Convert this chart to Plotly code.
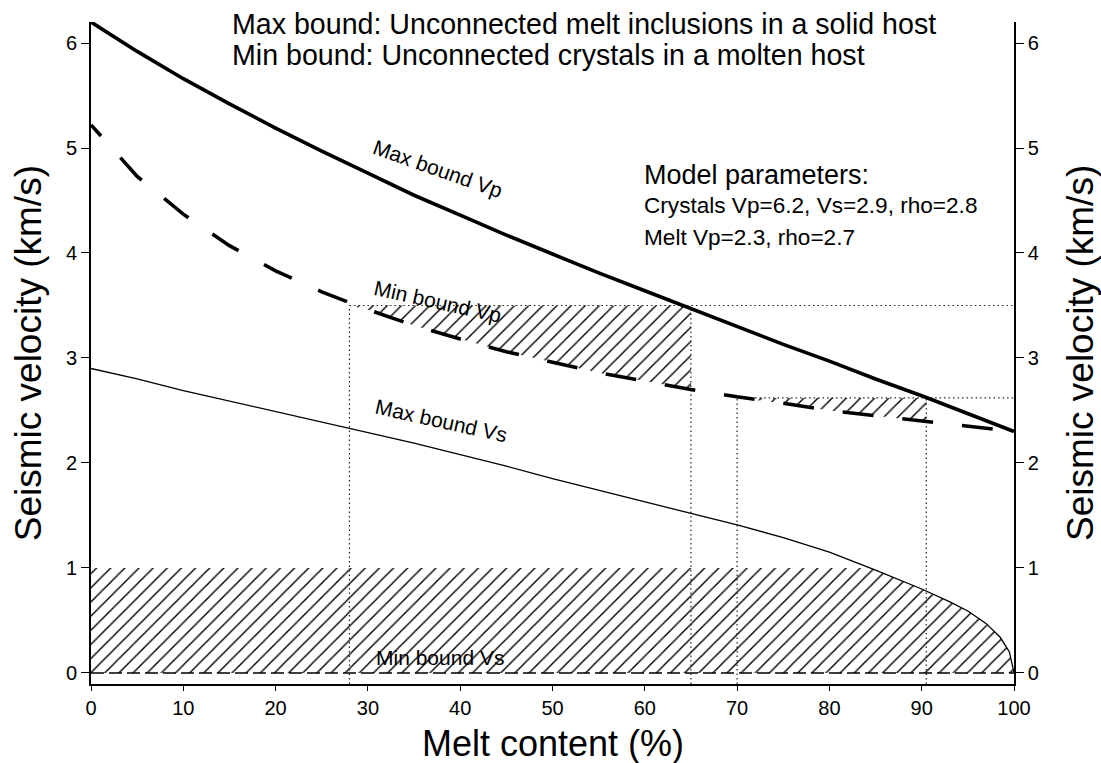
import numpy as np
import plotly.graph_objects as go

# Melt content (%) at which the P-wave bounds are tabulated
melt_pct = [0, 5, 10, 15, 20, 25, 30, 35, 40, 45, 50, 55, 60, 65, 70, 75, 80, 85, 90, 95, 100]
# Upper bound Vp: melt inclusions in a solid host (km/s)
vp_max = [6.20, 5.92, 5.66, 5.42, 5.19, 4.97, 4.76, 4.55, 4.36, 4.17, 3.99,
          3.81, 3.64, 3.47, 3.30, 3.13, 2.97, 2.80, 2.64, 2.47, 2.30]
# Lower bound Vp: crystals suspended in melt (km/s)
vp_min = [5.22, 4.73, 4.37, 4.07, 3.83, 3.63, 3.46, 3.31, 3.18, 3.06, 2.96,
          2.86, 2.78, 2.70, 2.63, 2.57, 2.50, 2.45, 2.40, 2.35, 2.30]

# Upper bound Vs, tabulated more densely near the melt end (km/s)
vs_melt_pct = [0, 5, 10, 15, 20, 25, 30, 35, 40, 45, 50, 55, 60, 65, 70, 75,
               80, 85, 90, 93, 95, 97, 98.5, 99.5, 100]
vs_max = [2.90, 2.80, 2.69, 2.59, 2.49, 2.39, 2.29, 2.19, 2.08, 1.97, 1.85,
          1.74, 1.63, 1.52, 1.41, 1.29, 1.15, 0.98, 0.80, 0.68, 0.59, 0.47,
          0.34, 0.20, 0.00]
# Lower bound Vs is zero everywhere (melt host has no shear strength)
vs_min_pct = [0, 100]
vs_min = [0.0, 0.0]

# Melt-content windows permitted by an observed velocity
vp_window_a = (28, 65, 3.5)     # x0, x1, observed Vp
vp_window_b = (70, 90.5, 2.62)
vs_observed = 1.0

FONT = "Liberation Sans, Arial, Helvetica, sans-serif"
INK = "black"
Y_RANGE = [-0.105, 6.2]

fig = go.Figure()

hatch = dict(shape="/", size=10, solidity=0.14, fgcolor=INK,
             bgcolor="rgba(0,0,0,0)", fgopacity=1)


def vp_window_polygon(x0, x1, top):
    inner = [m for m in melt_pct if x0 < m < x1]
    xs = [x0] + inner + [x1]
    ys = np.minimum(np.interp(xs, melt_pct, vp_min), top)
    px = list(xs) + [x1, x0, x0]
    py = list(ys) + [top, top, ys[0]]
    return px, py


for x0, x1, top in (vp_window_a, vp_window_b):
    px, py = vp_window_polygon(x0, x1, top)
    fig.add_trace(go.Scatter(x=px, y=py, mode="lines", fill="toself",
                             fillcolor="rgba(0,0,0,0)", fillpattern=hatch,
                             line=dict(width=0), hoverinfo="skip",
                             showlegend=False))

# Vs window: between the lower bound (0) and the smaller of the cap and the upper bound
vs_arr = np.array(vs_max)
vs_x = np.array(vs_melt_pct, dtype=float)
x_cross = float(np.interp(vs_observed, vs_arr[::-1], vs_x[::-1]))
poly_x = [0.0, 0.0, x_cross] + [x for x in vs_x if x > x_cross]
poly_y = [0.0, vs_observed, vs_observed] + [v for x, v in zip(vs_x, vs_arr) if x > x_cross]
poly_x += [0.0]
poly_y += [0.0]
fig.add_trace(go.Scatter(x=poly_x, y=poly_y, mode="lines", fill="toself",
                         fillcolor="rgba(0,0,0,0)", fillpattern=hatch,
                         line=dict(width=0), hoverinfo="skip", showlegend=False))

# Dotted guide lines marking the windows
dot = dict(color="#222", width=1.2, dash="1.5px,3px")
y_floor = Y_RANGE[0]
for x0, x1, top in (vp_window_a, vp_window_b):
    for xv in (x0, x1):
        fig.add_trace(go.Scatter(x=[xv, xv], y=[y_floor, top], mode="lines",
                                 line=dot, hoverinfo="skip", showlegend=False))
    fig.add_trace(go.Scatter(x=[x0, 100], y=[top, top], mode="lines",
                             line=dot, hoverinfo="skip", showlegend=False))

# Long dashes for the lower Vp bound, starting with a short lead-in dash
long_dash = "15px,29px," + ",".join(["31px,29px"] * 40)

# Bounds
fig.add_trace(go.Scatter(x=vs_min_pct, y=vs_min, mode="lines",
                         line=dict(color=INK, width=1.4, dash="13px,5px"),
                         showlegend=False))
fig.add_trace(go.Scatter(x=vs_melt_pct, y=vs_max, mode="lines",
                         line=dict(color=INK, width=1.3), showlegend=False))
fig.add_trace(go.Scatter(x=melt_pct, y=vp_min, mode="lines",
                         line=dict(color=INK, width=3.6, dash=long_dash),
                         showlegend=False))
fig.add_trace(go.Scatter(x=melt_pct, y=vp_max, mode="lines",
                         line=dict(color=INK, width=3.6), showlegend=False))

# Invisible trace so the right-hand axis is drawn
fig.add_trace(go.Scatter(x=[0], y=[0], yaxis="y2", mode="markers",
                         marker=dict(opacity=0), hoverinfo="skip",
                         showlegend=False))

tick_font = dict(family=FONT, size=20, color=INK)
yticks = [0, 1, 2, 3, 4, 5, 6]

fig.update_layout(
    width=1101, height=763,
    margin=dict(l=91, r=87, t=22, b=79),
    paper_bgcolor="white", plot_bgcolor="white",
    font=dict(family=FONT, color=INK),
    xaxis=dict(range=[0, 100], tickvals=[0, 10, 20, 30, 40, 50, 60, 70, 80, 90, 100],
               showline=True, linecolor=INK, linewidth=2, ticks="outside",
               ticklen=5, tickwidth=1.2, tickcolor=INK, showgrid=False,
               zeroline=False, tickfont=tick_font),
    yaxis=dict(range=Y_RANGE, tickvals=yticks, showline=True, linecolor=INK,
               linewidth=1.6, ticks="outside", ticklen=8, tickwidth=1.2,
               tickcolor=INK, showgrid=False, zeroline=False, tickfont=tick_font),
    yaxis2=dict(range=Y_RANGE, tickvals=yticks, overlaying="y", side="right",
                showline=True, linecolor=INK, linewidth=1.6, ticks="outside",
                ticklen=8, tickwidth=1.2, tickcolor=INK, showgrid=False,
                zeroline=False, tickfont=tick_font),
)

annotations = [
    # Axis titles
    dict(text="Seismic velocity (km/s)", xref="paper", yref="paper",
         x=-0.068, y=0.5, textangle=-90, font=dict(size=37)),
    dict(text="Seismic velocity (km/s)", xref="paper", yref="paper",
         x=1.0715, y=0.5, textangle=-90, font=dict(size=37)),
    dict(text="Melt content (%)", xref="paper", yref="paper", x=0.5,
         y=-0.0906, font=dict(size=36)),
    # Header
    dict(text="Max bound: Unconnected melt inclusions in a solid host", x=15.1,
         y=6.18, xanchor="left", font=dict(size=28.6)),
    dict(text="Min bound: Unconnected crystals in a molten host", x=15.1,
         y=5.885, xanchor="left", font=dict(size=28.6)),
    # Model parameters
    dict(text="Model parameters:", x=59.7, y=4.74, xanchor="left",
         font=dict(size=27)),
    dict(text="Crystals Vp=6.2, Vs=2.9, rho=2.8", x=59.7, y=4.45,
         xanchor="left", font=dict(size=22.6)),
    dict(text="Melt Vp=2.3, rho=2.7", x=59.7, y=4.15, xanchor="left",
         font=dict(size=22.6)),
    # Curve labels
    dict(text="Max bound Vp", x=37.5, y=4.80, textangle=19.5, font=dict(size=21)),
    dict(text="Min bound Vp", x=37.6, y=3.54, textangle=12.5, font=dict(size=21)),
    dict(text="Max bound Vs", x=37.9, y=2.40, textangle=12.5, font=dict(size=21)),
    dict(text="Min bound Vs", x=37.8, y=0.15, font=dict(size=21)),
]
for a in annotations:
    a.setdefault("xref", "x")
    a.setdefault("yref", "y")
    a.setdefault("xanchor", "center")
    a.setdefault("yanchor", "middle")
    a["showarrow"] = False
    a["font"] = dict(family=FONT, color=INK, **a["font"])
    fig.add_annotation(**a)

fig.write_html("out.html")
